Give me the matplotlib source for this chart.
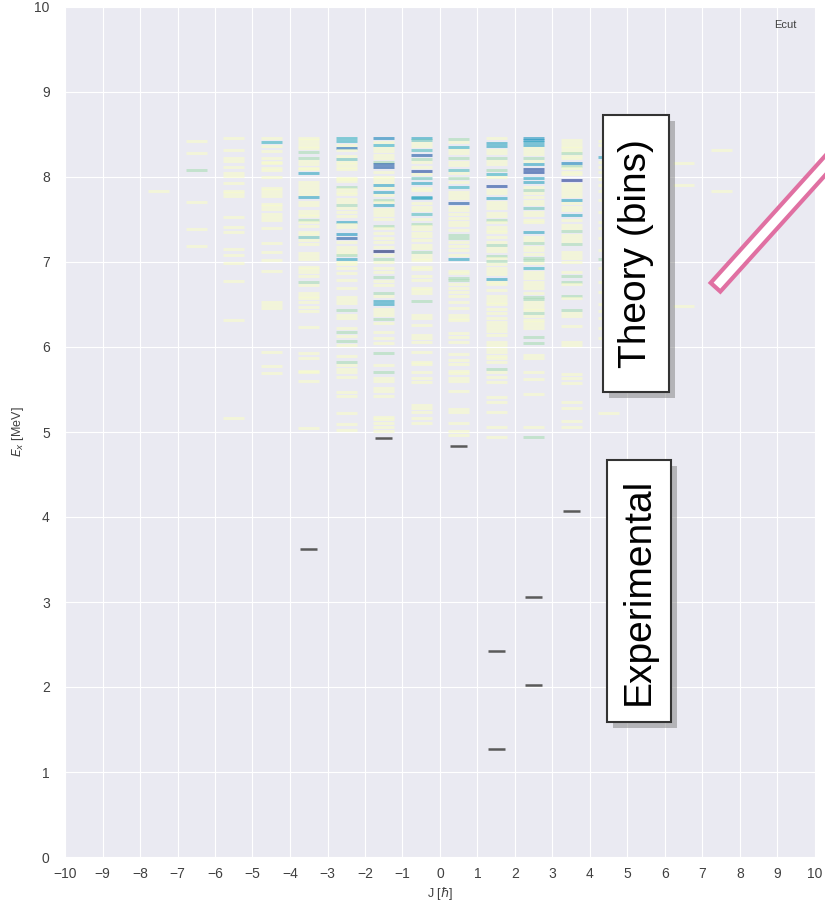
import numpy as np
import matplotlib
matplotlib.use("Agg")
import matplotlib.pyplot as plt
import matplotlib.patheffects as pe
from matplotlib.patches import Polygon, Rectangle

# theory levels per J column: excitation energy [MeV] and colour strength (0..1)
J_cols = [-7.5, -6.5, -5.5, -4.5, -3.5, -2.5, -1.5, -0.5, 0.5, 1.5, 2.5, 3.5, 4.5, 6.5, 7.5]

E_m75 = [7.835]
w_m75 = [0.05]

E_m65 = [8.428, 8.287, 8.083, 7.71, 7.39, 7.19]
w_m65 = [0.05, 0.05, 0.3, 0.05, 0.05, 0.05]

E_m55 = [8.459, 8.314, 8.224, 8.188, 8.114, 8.043, 8.016, 7.926, 7.836, 7.808,
         7.781, 7.534, 7.408, 7.353, 7.149, 7.079, 6.988, 6.773, 6.322, 5.161]
w_m55 = [0.05] * 20

E_m45 = [8.455, 8.408, 8.361, 8.306, 8.22, 8.181, 8.161, 8.11, 8.083, 8.004,
         7.875, 7.843, 7.812, 7.781, 7.687, 7.659, 7.628, 7.561, 7.534, 7.494,
         7.404, 7.224, 7.114, 7.028, 6.894, 6.534, 6.49, 6.455, 5.937, 5.781, 5.698]
w_m45 = [0.05, 0.5] + [0.05] * 29

E_m35 = [8.463, 8.436, 8.396, 8.369, 8.345, 8.298, 8.22, 8.188, 8.149, 8.11,
         8.09, 8.043, 7.945, 7.906, 7.875, 7.835, 7.8, 7.765, 7.702, 7.671,
         7.6, 7.569, 7.545, 7.494, 7.467, 7.428, 7.357, 7.326, 7.294, 7.259,
         7.208, 7.102, 7.075, 7.035, 6.945, 6.918, 6.887, 6.839, 6.769, 6.73,
         6.632, 6.604, 6.573, 6.534, 6.475, 6.424, 6.239, 5.934, 5.867, 5.722,
         5.702, 5.6, 5.051]
w_m35 = [0.05, 0.05, 0.05, 0.05, 0.05, 0.3, 0.3, 0.05, 0.05, 0.05,
         0.05, 0.55, 0.05, 0.05, 0.05, 0.05, 0.05, 0.55, 0.05, 0.05,
         0.05, 0.05, 0.05, 0.3, 0.05, 0.05, 0.05, 0.05, 0.4, 0.05,
         0.05, 0.05, 0.05, 0.05, 0.05, 0.05, 0.05, 0.05, 0.3, 0.05,
         0.05, 0.05, 0.05, 0.05, 0.05, 0.05, 0.05, 0.05, 0.05, 0.05,
         0.05, 0.05, 0.05]

E_m25 = [8.455, 8.424, 8.377, 8.345, 8.318, 8.251, 8.208, 8.181, 8.149, 8.122,
         8.09, 7.992, 7.977, 7.953, 7.887, 7.855, 7.828, 7.796, 7.741, 7.71,
         7.671, 7.632, 7.585, 7.545, 7.475, 7.443, 7.416, 7.326, 7.279, 7.232,
         7.181, 7.141, 7.11, 7.083, 7.035, 7.004, 6.973, 6.933, 6.867, 6.788,
         6.69, 6.592, 6.553, 6.514, 6.436, 6.377, 6.338, 6.22, 6.181, 6.134,
         6.071, 6.024, 5.894, 5.82, 5.788, 5.737, 5.702, 5.647, 5.475, 5.428,
         5.22, 5.091, 5.024]
w_m25 = [0.5, 0.5, 0.05, 0.7, 0.05, 0.05, 0.4, 0.05, 0.05, 0.05,
         0.05, 0.05, 0.05, 0.05, 0.3, 0.05, 0.05, 0.05, 0.05, 0.05,
         0.3, 0.05, 0.05, 0.05, 0.55, 0.05, 0.05, 0.6, 0.75, 0.05,
         0.05, 0.05, 0.05, 0.3, 0.55, 0.05, 0.05, 0.05, 0.05, 0.05,
         0.05, 0.05, 0.05, 0.05, 0.3, 0.05, 0.05, 0.05, 0.3, 0.05,
         0.3, 0.05, 0.05, 0.3, 0.05, 0.05, 0.05, 0.05, 0.05, 0.05,
         0.05, 0.05, 0.05]

E_m15 = [8.463, 8.408, 8.377, 8.345, 8.306, 8.259, 8.22, 8.181, 8.153, 8.114,
         8.063, 8.004, 7.977, 7.937, 7.906, 7.867, 7.828, 7.788, 7.73, 7.702,
         7.671, 7.624, 7.585, 7.553, 7.506, 7.428, 7.396, 7.337, 7.279, 7.24,
         7.181, 7.13, 7.083, 7.035, 6.996, 6.933, 6.886, 6.827, 6.777, 6.73,
         6.632, 6.604, 6.541, 6.51, 6.447, 6.408, 6.377, 6.33, 6.279, 6.173,
         6.102, 6.044, 5.934, 5.788, 5.71, 5.632, 5.6, 5.514, 5.483, 5.428,
         5.181, 5.153, 5.102, 5.063, 5.012]
w_m15 = [0.65, 0.05, 0.5, 0.05, 0.05, 0.05, 0.05, 0.3, 0.75, 0.75,
         0.05, 0.05, 0.05, 0.05, 0.55, 0.05, 0.55, 0.05, 0.3, 0.05,
         0.55, 0.05, 0.05, 0.05, 0.05, 0.3, 0.05, 0.05, 0.05, 0.05,
         0.05, 0.95, 0.05, 0.3, 0.05, 0.05, 0.05, 0.3, 0.05, 0.05,
         0.3, 0.05, 0.55, 0.55, 0.05, 0.05, 0.05, 0.3, 0.05, 0.05,
         0.05, 0.05, 0.3, 0.05, 0.3, 0.05, 0.05, 0.05, 0.05, 0.05,
         0.05, 0.05, 0.05, 0.05, 0.05]

E_m05 = [8.463, 8.436, 8.396, 8.369, 8.314, 8.259, 8.212, 8.181, 8.122, 8.075,
         8.031, 7.992, 7.926, 7.875, 7.847, 7.769, 7.749, 7.69, 7.651, 7.612,
         7.561, 7.506, 7.451, 7.428, 7.388, 7.337, 7.31, 7.259, 7.2, 7.169,
         7.114, 7.083, 7.051, 7.024, 6.945, 6.918, 6.839, 6.788, 6.698, 6.671,
         6.632, 6.541, 6.377, 6.338, 6.259, 6.141, 6.102, 6.055, 5.937, 5.82,
         5.796, 5.71, 5.639, 5.592, 5.318, 5.286, 5.231, 5.169, 5.102]
w_m05 = [0.55, 0.4, 0.05, 0.05, 0.45, 0.75, 0.3, 0.05, 0.05, 0.8,
         0.05, 0.4, 0.55, 0.05, 0.05, 0.55, 0.55, 0.05, 0.05, 0.05,
         0.45, 0.05, 0.3, 0.05, 0.05, 0.05, 0.05, 0.05, 0.05, 0.05,
         0.3, 0.05, 0.05, 0.05, 0.05, 0.05, 0.05, 0.05, 0.05, 0.05,
         0.05, 0.3, 0.05, 0.05, 0.05, 0.05, 0.05, 0.05, 0.05, 0.05,
         0.05, 0.05, 0.05, 0.05, 0.05, 0.05, 0.05, 0.05, 0.05]

E_p05 = [8.447, 8.416, 8.357, 8.318, 8.279, 8.22, 8.181, 8.141, 8.083, 8.043,
         7.992, 7.937, 7.879, 7.828, 7.788, 7.757, 7.698, 7.651, 7.612, 7.561,
         7.514, 7.467, 7.435, 7.376, 7.318, 7.279, 7.24, 7.192, 7.141, 7.083,
         7.035, 6.894, 6.867, 6.816, 6.788, 6.737, 6.69, 6.651, 6.604, 6.534,
         6.463, 6.377, 6.345, 6.318, 6.161, 6.122, 6.055, 5.914, 5.847, 5.796,
         5.718, 5.69, 5.632, 5.6, 5.483, 5.271, 5.24, 5.102, 5.012, 4.965]
w_p05 = [0.3, 0.05, 0.5, 0.05, 0.05, 0.3, 0.05, 0.05, 0.45, 0.05,
         0.3, 0.05, 0.5, 0.05, 0.05, 0.05, 0.75, 0.05, 0.05, 0.05,
         0.05, 0.05, 0.05, 0.05, 0.3, 0.3, 0.05, 0.05, 0.05, 0.05,
         0.55, 0.05, 0.05, 0.3, 0.3, 0.05, 0.05, 0.05, 0.05, 0.05,
         0.05, 0.05, 0.05, 0.05, 0.05, 0.05, 0.05, 0.05, 0.05, 0.05,
         0.05, 0.05, 0.05, 0.05, 0.05, 0.05, 0.05, 0.05, 0.05, 0.05]

E_p15 = [8.455, 8.396, 8.369, 8.318, 8.279, 8.22, 8.188, 8.149, 8.083, 8.031,
         8.004, 7.898, 7.847, 7.808, 7.749, 7.702, 7.671, 7.632, 7.573, 7.545,
         7.494, 7.467, 7.416, 7.377, 7.349, 7.298, 7.231, 7.2, 7.169, 7.13,
         7.075, 7.043, 7.012, 6.973, 6.933, 6.894, 6.855, 6.8, 6.769, 6.737,
         6.671, 6.604, 6.565, 6.534, 6.502, 6.447, 6.396, 6.345, 6.298, 6.259,
         6.22, 6.188, 6.141, 6.063, 6.024, 5.977, 5.945, 5.898, 5.867, 5.82,
         5.741, 5.71, 5.651, 5.592, 5.416, 5.349, 5.24, 5.063, 4.945]
w_p15 = [0.05, 0.55, 0.55, 0.05, 0.05, 0.3, 0.05, 0.05, 0.3, 0.5,
         0.05, 0.8, 0.05, 0.05, 0.55, 0.05, 0.05, 0.05, 0.05, 0.05,
         0.3, 0.05, 0.05, 0.05, 0.05, 0.05, 0.05, 0.3, 0.05, 0.05,
         0.3, 0.05, 0.3, 0.05, 0.05, 0.05, 0.05, 0.55, 0.05, 0.05,
         0.05, 0.05, 0.05, 0.05, 0.05, 0.05, 0.05, 0.05, 0.05, 0.05,
         0.05, 0.05, 0.05, 0.05, 0.05, 0.05, 0.05, 0.05, 0.05, 0.05,
         0.3, 0.05, 0.05, 0.05, 0.05, 0.05, 0.05, 0.05, 0.05]

E_p25 = [8.463, 8.436, 8.408, 8.377, 8.337, 8.306, 8.267, 8.22, 8.188, 8.149,
         8.094, 8.063, 7.992, 7.945, 7.887, 7.847, 7.808, 7.769, 7.718, 7.679,
         7.639, 7.585, 7.553, 7.494, 7.467, 7.357, 7.298, 7.259, 7.22, 7.181,
         7.141, 7.09, 7.051, 7.024, 6.992, 6.933, 6.886, 6.847, 6.816, 6.769,
         6.73, 6.69, 6.632, 6.592, 6.565, 6.534, 6.494, 6.463, 6.431, 6.396,
         6.369, 6.318, 6.291, 6.259, 6.228, 6.122, 6.044, 5.906, 5.875, 5.71,
         5.624, 5.443, 5.063, 4.945]
w_p25 = [0.6, 0.6, 0.55, 0.55, 0.05, 0.05, 0.05, 0.3, 0.05, 0.55,
         0.8, 0.8, 0.55, 0.55, 0.05, 0.3, 0.05, 0.05, 0.05, 0.05,
         0.4, 0.05, 0.05, 0.05, 0.05, 0.55, 0.05, 0.05, 0.3, 0.05,
         0.05, 0.05, 0.3, 0.3, 0.05, 0.5, 0.05, 0.05, 0.05, 0.05,
         0.05, 0.05, 0.05, 0.3, 0.3, 0.05, 0.05, 0.05, 0.05, 0.3,
         0.05, 0.05, 0.05, 0.05, 0.05, 0.3, 0.3, 0.05, 0.05, 0.05,
         0.05, 0.05, 0.05, 0.3]

E_p35 = [8.436, 8.396, 8.369, 8.337, 8.306, 8.279, 8.251, 8.22, 8.169, 8.133,
         8.102, 8.063, 8.031, 7.965, 7.914, 7.887, 7.847, 7.808, 7.781, 7.73,
         7.69, 7.651, 7.612, 7.553, 7.494, 7.435, 7.404, 7.365, 7.318, 7.279,
         7.247, 7.208, 7.114, 7.083, 7.051, 7.004, 6.886, 6.839, 6.769, 6.737,
         6.604, 6.573, 6.436, 6.396, 6.369, 6.251, 6.055, 6.024, 5.679, 5.632,
         5.573, 5.349, 5.286, 5.129, 5.063]
w_p35 = [0.05, 0.05, 0.05, 0.05, 0.05, 0.3, 0.05, 0.05, 0.65, 0.3,
         0.05, 0.05, 0.05, 0.85, 0.05, 0.05, 0.05, 0.05, 0.05, 0.55,
         0.05, 0.05, 0.05, 0.55, 0.05, 0.05, 0.05, 0.3, 0.05, 0.05,
         0.05, 0.3, 0.05, 0.05, 0.05, 0.05, 0.05, 0.3, 0.3, 0.05,
         0.3, 0.05, 0.3, 0.05, 0.05, 0.05, 0.05, 0.05, 0.05, 0.05,
         0.05, 0.05, 0.05, 0.05, 0.05]

E_p45 = [8.42, 8.38, 8.24, 8.18, 8.12, 8.06, 7.98, 7.91, 7.83, 7.73,
         7.59, 7.47, 7.40, 7.28, 7.14, 7.04, 6.93, 6.77, 6.65, 6.51,
         6.42, 6.34, 6.22, 6.10, 5.22]
w_p45 = [0.05, 0.05, 0.55, 0.05, 0.05, 0.05, 0.05, 0.05, 0.05, 0.05,
         0.05, 0.05, 0.05, 0.05, 0.05, 0.3, 0.05, 0.05, 0.05, 0.05,
         0.05, 0.05, 0.05, 0.05, 0.05]

E_p65 = [8.17, 7.905, 6.486]
w_p65 = [0.05, 0.05, 0.05]

E_p75 = [8.318, 7.835]
w_p75 = [0.05, 0.05]

theory_E = [E_m75, E_m65, E_m55, E_m45, E_m35, E_m25, E_m15, E_m05,
            E_p05, E_p15, E_p25, E_p35, E_p45, E_p65, E_p75]
theory_w = [w_m75, w_m65, w_m55, w_m45, w_m35, w_m25, w_m15, w_m05,
            w_p05, w_p15, w_p25, w_p35, w_p45, w_p65, w_p75]

# experimental levels
J_exp = [-3.5, -1.5, 0.5, 1.5, 1.5, 2.5, 2.5, 3.5]
E_exp = [3.62, 4.93, 4.835, 1.27, 2.42, 2.02, 3.06, 4.07]

plt.style.use("seaborn-v0_8-darkgrid")
plt.rcParams["font.family"] = ["Liberation Sans", "DejaVu Sans"]

W, H = 825, 905
fig = plt.figure(figsize=(W / 100, H / 100), dpi=100)
ax = fig.add_axes([65 / W, 48 / H, 750 / W, 850 / H])

cmap = plt.get_cmap("YlGnBu")
half = 0.28
for j, es, ws in zip(J_cols, theory_E, theory_w):
    es = np.asarray(es)
    ax.hlines(es, j - half, j + half, colors=cmap(np.asarray(ws)), lw=2.1, alpha=0.62)

J_exp = np.asarray(J_exp)
ax.hlines(E_exp, J_exp - 0.23, J_exp + 0.23, colors="#5a5a5a", lw=1.8)

ax.set_xlim(-10, 10)
ax.set_ylim(0, 10)
ax.set_xticks(range(-10, 11))
ax.set_yticks(range(0, 11))
ax.tick_params(labelsize=10, colors="0.25")
ax.tick_params(axis="x", pad=7)
ax.tick_params(axis="y", pad=11)
ax.set_xlabel(r"J [$\hbar$]", fontsize=9, color="0.25", labelpad=3)
ax.set_ylabel(r"$E_x$ [MeV]", fontsize=9, color="0.25", labelpad=6)

fig.text(785 / W, 1 - 25 / H, "Ecut", fontsize=8, color="0.25", ha="center", va="center")

# annotation boxes (pixel extents left, top, right, bottom)
shadow = [pe.SimplePatchShadow(offset=(4, -4), shadow_rgbFace="0.45", alpha=0.45), pe.Normal()]
for label, (x0, y0, x1, y1) in [("Theory (bins)", (603, 115, 669, 392)),
                                ("Experimental", (607, 460, 671, 722))]:
    box = Rectangle((x0 / W, 1 - y1 / H), (x1 - x0) / W, (y1 - y0) / H,
                    transform=fig.transFigure, fc="white", ec="0.2", lw=1.5)
    box.set_path_effects(shadow)
    fig.add_artist(box)
    fig.text((x0 + x1) / 2 / W, 1 - (y0 + y1) / 2 / H, label, rotation=90, fontsize=28,
             ha="center", va="center", color="black")

# pink outlined bar coming in from the top right
c0 = np.array([715.5, 287.2])
d = np.array([0.6695, -0.7426])
n = np.array([0.7426, 0.6695])
c1 = c0 + 250 * d
pts = np.array([c0 + 6.5 * n, c0 - 6.5 * n, c1 - 6.5 * n, c1 + 6.5 * n])
pts_fig = np.column_stack([pts[:, 0] / W, 1 - pts[:, 1] / H])
fig.add_artist(Polygon(pts_fig, closed=True, transform=fig.transFigure,
                       fc="white", ec="#e070a2", lw=3))

fig.savefig("out.png", dpi=100)
